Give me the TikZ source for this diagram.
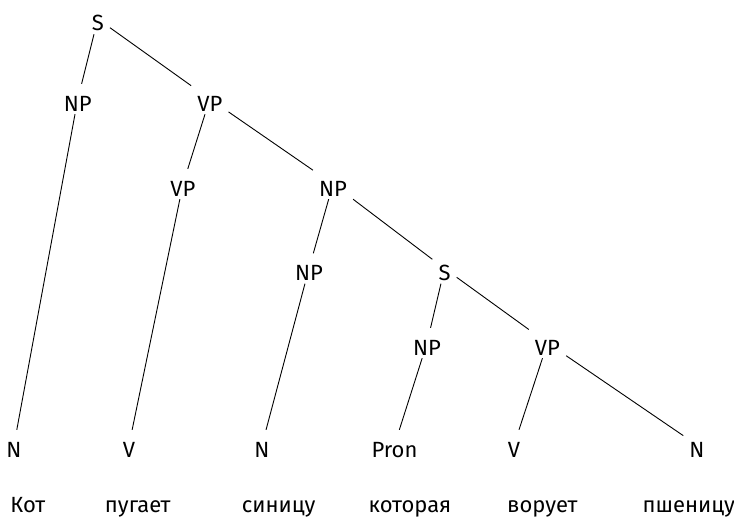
\documentclass[tikz,border=0pt]{standalone}
\usepackage{fontspec}
\setmainfont{Fira Sans}
\begin{document}
\begin{tikzpicture}[x=1pt,y=-1pt,
  cat/.style={anchor=base, inner xsep=6pt, inner ysep=3pt, text height=24pt, text depth=0pt, font=\fontsize{22}{26}\selectfont},
  word/.style={anchor=base, inner sep=0pt, font=\fontsize{22}{26}\selectfont},
  edge/.style={line width=0.9pt, black}]
\useasboundingbox (0,0) rectangle (734,519);
% categories
\node[cat] (s1)  at (97.8,31) {S};
\node[cat] (np1) at (77.8,111) {NP};
\node[cat] (vp1) at (209.8,111) {VP};
\node[cat] (vp2) at (183,196) {VP};
\node[cat] (np2) at (333,196) {NP};
\node[cat] (np3) at (309,280.5) {NP};
\node[cat] (s2)  at (444.5,280.5) {S};
\node[cat] (np4) at (427,355) {NP};
\node[cat] (vp3) at (547.5,355) {VP};
\node[cat] (n1)  at (14,457) {N};
\node[cat] (v1)  at (129,457) {V};
\node[cat] (n2)  at (262,457) {N};
\node[cat] (pr)  at (394.5,457) {Pron};
\node[cat] (v2)  at (514,457) {V};
\node[cat] (n3)  at (697,457) {N};
% words
\node[word] (w1) at (27.8,512) {Кот};
\node[word] (w2) at (137.8,512) {пугает};
\node[word] (w3) at (278.7,512) {синицу};
\node[word] (w4) at (410,512) {которая};
\node[word] (w5) at (542.3,512) {ворует};
\node[word] (w6) at (688.7,512) {пшеницу};
% edges
\draw[edge] (s1) -- (np1);
\draw[edge] (s1) -- (vp1);
\draw[edge] (np1) -- (n1);
\draw[edge] (vp1) -- (vp2);
\draw[edge] (vp1) -- (np2);
\draw[edge] (vp2) -- (v1);
\draw[edge] (np2) -- (np3);
\draw[edge] (np2) -- (s2);
\draw[edge] (np3) -- (n2);
\draw[edge] (s2) -- (np4);
\draw[edge] (s2) -- (vp3);
\draw[edge] (np4) -- (pr);
\draw[edge] (vp3) -- (v2);
\draw[edge] (vp3) -- (n3);
\end{tikzpicture}
\end{document}
